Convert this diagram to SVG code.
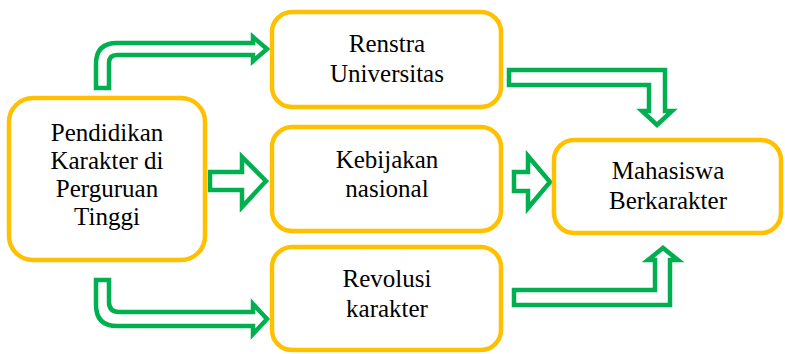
<svg xmlns="http://www.w3.org/2000/svg" width="785" height="354" viewBox="0 0 785 354">
  <style>
    .box { fill: #ffffff; stroke: #FFC000; stroke-width: 4.5; }
    .arrow { fill: #ffffff; stroke: #00B050; stroke-width: 4.5; stroke-linejoin: miter; }
    .label { font-family: 'Liberation Serif', 'Times New Roman', Times, serif; font-size: 25px; fill: #000000; text-anchor: middle; }
  </style>
  <rect width="785" height="354" fill="#ffffff"/>

  <g id="connectors">
    <!-- bent arrow: left node up to Renstra -->
    <path class="arrow" d="M96,88 L96,64 Q96,43 117,43 L253,43 L253,37 L267,49 L253,61 L253,55 L117,55 Q109,55 109,63 L109,88 Z"/>
    <!-- Renstra down into Mahasiswa -->
    <path class="arrow" d="M509,70 L665,70 L665,111 L672,111 L657,125 L642,111 L649,111 L649,85 L509,85 Z"/>
    <!-- straight arrow: left node to Kebijakan -->
    <path class="arrow" d="M210,172 L242,172 L242,157 L266,181 L242,207 L242,190 L210,190 Z"/>
    <!-- straight arrow: Kebijakan to Mahasiswa -->
    <path class="arrow" d="M514,172 L528,172 L528,156 L550,182 L528,208 L528,191 L514,191 Z"/>
    <!-- bent arrow: left node down to Revolusi -->
    <path class="arrow" d="M96,280 L109,280 L109,302 Q109,312 119,312 L253,312 L253,304 L267,319 L253,334 L253,326 L117,326 Q96,326 96,305 Z"/>
    <!-- Revolusi up into Mahasiswa -->
    <path class="arrow" d="M514,290 L655,290 L655,260 L648,260 L663,248 L678,260 L670,260 L670,305 L514,305 Z"/>
  </g>

  <g id="node-pendidikan">
    <rect class="box" x="9" y="98" width="196" height="162" rx="24"/>
    <text class="label" x="107" y="141">Pendidikan</text>
    <text class="label" x="107" y="169">Karakter di</text>
    <text class="label" x="107" y="197">Perguruan</text>
    <text class="label" x="107" y="225">Tinggi</text>
  </g>

  <g id="node-renstra">
    <rect class="box" x="272" y="12" width="229" height="95" rx="20"/>
    <text class="label" x="387" y="52">Renstra</text>
    <text class="label" x="387" y="82">Universitas</text>
  </g>

  <g id="node-kebijakan">
    <rect class="box" x="272" y="127" width="229" height="104" rx="20"/>
    <text class="label" x="387" y="168">Kebijakan</text>
    <text class="label" x="387" y="197">nasional</text>
  </g>

  <g id="node-revolusi">
    <rect class="box" x="272" y="247" width="229" height="103" rx="20"/>
    <text class="label" x="387" y="287">Revolusi</text>
    <text class="label" x="387" y="317">karakter</text>
  </g>

  <g id="node-mahasiswa">
    <rect class="box" x="554" y="140" width="227" height="93" rx="20"/>
    <text class="label" x="668" y="179">Mahasiswa</text>
    <text class="label" x="668" y="209">Berkarakter</text>
  </g>
</svg>
